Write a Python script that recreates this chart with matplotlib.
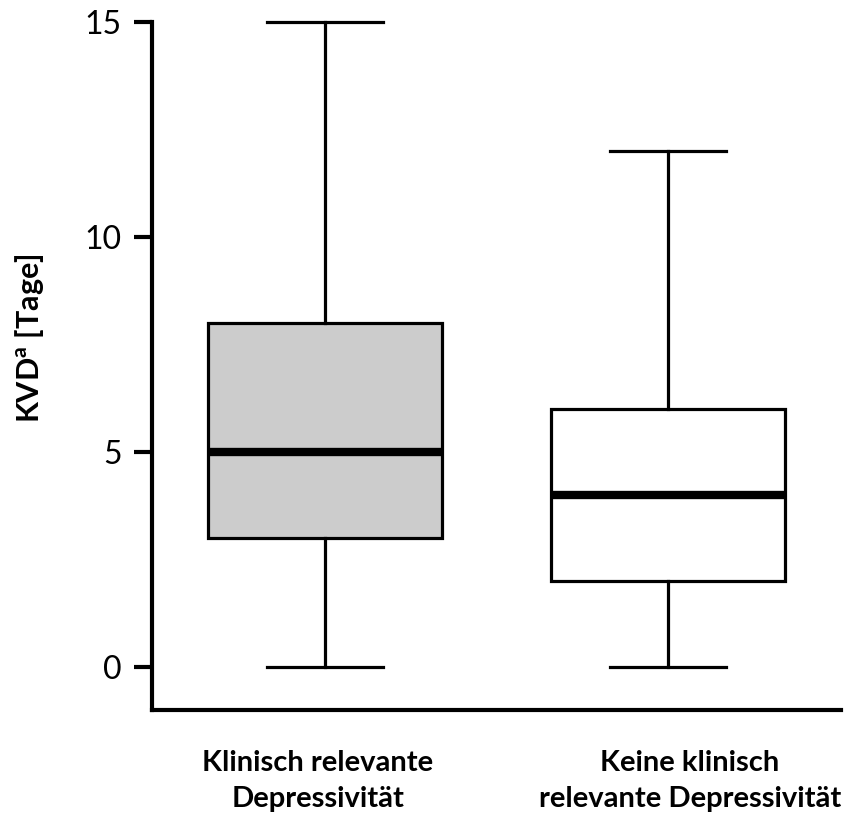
import matplotlib
matplotlib.use("Agg")
import matplotlib.pyplot as plt
from matplotlib.transforms import ScaledTranslation

categories = ["Klinisch relevante\nDepressivität", "Keine klinisch\nrelevante Depressivität"]
whislo = [0, 0]
q1 = [3, 2]
med = [5, 4]
q3 = [8, 6]
whishi = [15, 12]
fills = ["#cccccc", "#ffffff"]
yticks = [0, 5, 10, 15]

plt.rcParams['font.family'] = ['Lato', 'DejaVu Sans']
plt.rcParams['mathtext.fontset'] = 'custom'
plt.rcParams['mathtext.rm'] = 'Lato'
plt.rcParams['mathtext.bf'] = 'Lato:bold'

fig = plt.figure(figsize=(8.48, 8.14), dpi=100)
ax = fig.add_axes([152/848, 1-710/814, (841-152)/848, (710-22)/814])

stats = []
for i in range(len(categories)):
    stats.append(dict(whislo=whislo[i], q1=q1[i], med=med[i], q3=q3[i], whishi=whishi[i], fliers=[], label=categories[i]))

bp = ax.bxp(stats, positions=[1, 2], widths=0.68, capwidths=0.34, patch_artist=True, showfliers=False,
            boxprops=dict(linewidth=2.3, edgecolor='black'),
            whiskerprops=dict(linewidth=2.3, color='black'),
            capprops=dict(linewidth=2.3, color='black'),
            medianprops=dict(linewidth=6, color='black', solid_capstyle='butt'))
for patch, c in zip(bp['boxes'], fills):
    patch.set_facecolor(c)
for art in bp['caps'] + bp['whiskers'] + bp['medians'] + bp['boxes']:
    art.set_clip_on(False)

ax.set_xlim(0.496, 2.504)
ax.set_ylim(-1, 15)
ax.spines['top'].set_visible(False)
ax.spines['right'].set_visible(False)
ax.spines['left'].set_linewidth(3)
ax.spines['bottom'].set_linewidth(3)
ax.spines['left'].set_bounds(-1, 15)

ax.set_yticks(yticks)
ax.set_yticklabels([str(t) for t in yticks], fontsize=23)
ax.tick_params(axis='y', length=13, width=3, pad=9)
ax.tick_params(axis='x', length=0, pad=29)
ax.set_xticks([1, 2])
ax.set_xticklabels(categories, fontsize=21, fontweight='bold', linespacing=1.45)
offsets = [-7, 22]
for lbl, off in zip(ax.get_xticklabels(), offsets):
    lbl.set_transform(lbl.get_transform() + ScaledTranslation(off/100, 0, fig.dpi_scale_trans))

fig.text(30/848, 1-338/814, r"KVD$^{\mathbf{a}}$ [Tage]", rotation=90, ha='center', va='center',
         fontsize=22, fontweight='bold')

fig.savefig("out.png", dpi=100)
